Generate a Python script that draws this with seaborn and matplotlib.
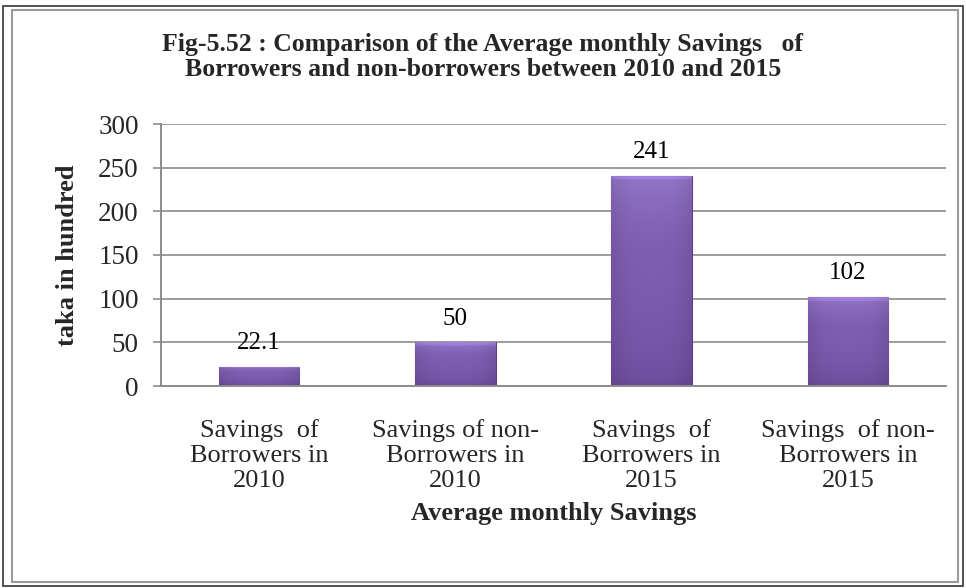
import matplotlib
matplotlib.use("Agg")
import matplotlib.pyplot as plt
from matplotlib.patches import Rectangle
from matplotlib.colors import to_rgb
import numpy as np
import seaborn as sns
import pandas as pd

categories = [
    "Savings  of\nBorrowers in\n2010",
    "Savings of non-\nBorrowers in\n2010",
    "Savings  of\nBorrowers in\n2015",
    "Savings  of non-\nBorrowers in\n2015",
]
values = [22.1, 50, 241, 102]
value_labels = ["22.1", "50", "241", "102"]
yticks = [0, 50, 100, 150, 200, 250, 300]

sns.set_theme(style="white")
plt.rcParams["font.family"] = ["Liberation Serif", "DejaVu Serif"]

df = pd.DataFrame({"cat": categories, "val": values})

W, H = 966, 588
fig = plt.figure(figsize=(W / 100, H / 100), dpi=100)
ax = fig.add_axes([161 / W, 1 - 386 / H, (946 - 161) / W, (386 - 124) / H])

bar_color = "#7C5BAA"
sns.barplot(data=df, x="cat", y="val", color=bar_color, width=0.41,
            saturation=1, ax=ax, zorder=3, edgecolor="#5E3F8C", linewidth=0.8)

# shaded fill for each bar: lighter bevel on top, soft darkening to the sides/bottom
top_c = np.array(to_rgb("#9377C8"))
mid_c = np.array(to_rgb("#7E5CB0"))
bot_c = np.array(to_rgb("#6A4998"))
ny, nx = 200, 60
for patch in ax.patches:
    x0, w = patch.get_x(), patch.get_width()
    h = patch.get_height()
    t = np.linspace(0, 1, ny)[:, None]          # 0 = bottom, 1 = top
    s = np.linspace(-1, 1, nx)[None, :]
    base = np.where(t[..., None] > 0.5,
                    mid_c + (top_c - mid_c) * ((t[..., None] - 0.5) * 2) ** 2,
                    bot_c + (mid_c - bot_c) * (t[..., None] * 2) ** 0.5)
    side = 1 - 0.10 * (np.abs(s) ** 3)[..., None]
    img = np.clip(base * side, 0, 1)
    # bevel strip along the top edge
    bevel_px = max(1, int(ny * min(0.08, 6 / max(h, 1))))
    img[-bevel_px:, :, :] = np.clip(img[-bevel_px:, :, :] * 1.12, 0, 1)
    im = ax.imshow(img, extent=(x0, x0 + w, 0, h), origin="lower",
                   aspect="auto", zorder=3.5, interpolation="bilinear")
    im.set_clip_path(patch)

for patch, lab in zip(ax.patches, value_labels):
    x = patch.get_x() + patch.get_width() / 2
    h = patch.get_height()
    ax.annotate(lab, (x, h), xytext=(0, 9), textcoords="offset points",
                ha="center", va="bottom", fontsize=18, color="black", zorder=5)

ax.set_ylim(0, 300)
ax.set_yticks(yticks)
ax.set_yticklabels([str(t) for t in yticks], fontsize=19.5)
ax.set_xlim(-0.5, 3.5)
ax.set_xticks(range(4))
ax.set_xticklabels(categories, fontsize=19, linespacing=1.18)
ax.tick_params(axis="x", length=0, pad=24)
ax.tick_params(axis="y", length=6, width=1.2, color="#8C8C8C", pad=10,
               direction="out", left=True)

ax.grid(axis="y", color="#9C9C9C", linewidth=1.4, zorder=0)
ax.set_axisbelow(True)
for s in ["top", "right"]:
    ax.spines[s].set_visible(False)
for s in ["left", "bottom"]:
    ax.spines[s].set_color("#8C8C8C")
    ax.spines[s].set_linewidth(1.4)
ax.spines["bottom"].set_zorder(4)

ax.set_xlabel("Average monthly Savings", fontsize=19, fontweight="bold", labelpad=7)
ax.set_ylabel("taka in hundred", fontsize=19, fontweight="bold", labelpad=14)

fig.text(483 / W, 1 - 57 / H,
         "Fig-5.52 : Comparison of the Average monthly Savings   of\n"
         "Borrowers and non-borrowers between 2010 and 2015",
         ha="center", va="center", fontsize=18.5, fontweight="bold",
         linespacing=1.08)

# double frame around the figure
fig.patches.append(Rectangle((3 / W, 1 - 586 / H), 960 / W, 580 / H,
                             transform=fig.transFigure, fill=False,
                             edgecolor="#333333", linewidth=1.2))
fig.patches.append(Rectangle((12 / W, 1 - 582 / H), 946 / W, 572 / H,
                             transform=fig.transFigure, fill=False,
                             edgecolor="#9A9A9A", linewidth=1.5))

fig.savefig("out.png", dpi=100)
